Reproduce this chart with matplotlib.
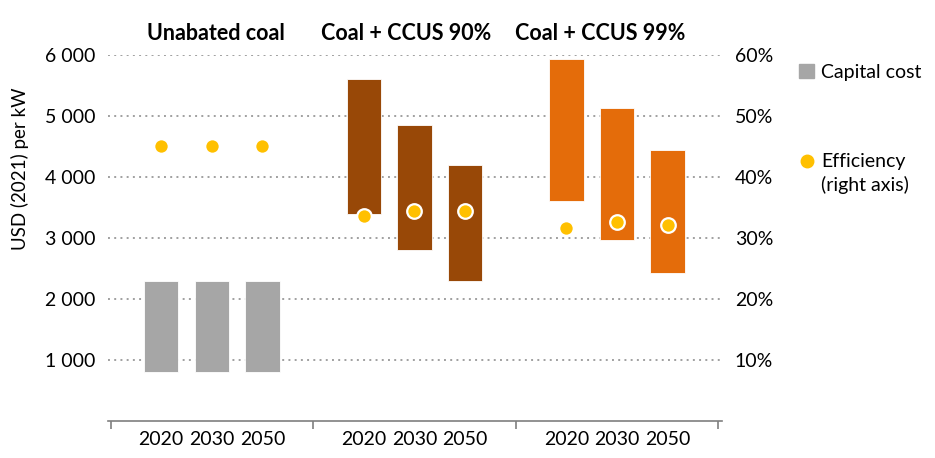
import numpy as np
import matplotlib.pyplot as plt
from matplotlib.patches import Patch
from matplotlib.lines import Line2D

plt.rcParams['font.family'] = ['Lato', 'DejaVu Sans']

groups = ['Unabated coal', 'Coal + CCUS 90%', 'Coal + CCUS 99%']
years = ['2020', '2030', '2050']

# capital cost ranges, USD (2021) per kW
cost_low = [[800, 800, 800], [3400, 2800, 2300], [3600, 2970, 2430]]
cost_high = [[2300, 2300, 2300], [5600, 4850, 4200], [5930, 5130, 4450]]
# efficiency, right axis
efficiency = [[0.45, 0.45, 0.45], [0.336, 0.344, 0.344], [0.316, 0.326, 0.321]]

bar_colors = ['#A6A6A6', '#984807', '#E46C0A']
dot_color = '#FFC000'
grid_color = '#A0A0A0'
title_x = [2.09, 5.83, 9.67]

fig = plt.figure(figsize=(9.35, 4.58), dpi=100)
ax = fig.add_axes([0.1155, 0.0808, 0.657, 0.7992])
ax2 = ax.twinx()

for g in range(len(groups)):
    xs = np.arange(3) + 1 + 4 * g
    low = np.array(cost_low[g])
    high = np.array(cost_high[g])
    ax.bar(xs, high - low, bottom=low, width=0.68, color=bar_colors[g],
           edgecolor='white', linewidth=0.6, zorder=2)
    ax2.plot(xs, efficiency[g], 'o', color=dot_color, markersize=10.5,
             markeredgecolor='white', markeredgewidth=1.6, zorder=3)
    ax.text(title_x[g], 6180, groups[g], ha='center', va='bottom',
            fontsize=15.5, fontweight='bold')

ax.set_xlim(-0.05, 12.08)
ax.set_ylim(0, 6000)
ax2.set_ylim(0, 0.6)

ax.set_yticks(np.arange(1000, 7000, 1000))
ax.set_yticklabels(['{:,}'.format(v).replace(',', ' ') for v in range(1000, 7000, 1000)])
ax2.set_yticks(np.arange(0.1, 0.61, 0.1))
ax2.set_yticklabels(['{:.0f}%'.format(v * 100) for v in np.arange(0.1, 0.61, 0.1)])

for a in (ax, ax2):
    for s in ['top', 'left', 'right']:
        a.spines[s].set_visible(False)
    a.tick_params(axis='y', length=0, labelsize=14, pad=9)
ax2.spines['bottom'].set_visible(False)
ax.spines['bottom'].set_color('#7F7F7F')
ax.spines['bottom'].set_linewidth(1.2)

ax.set_xticks([0, 4, 8, 12])
ax.set_xticklabels([])
ax.tick_params(axis='x', which='major', length=6, color='#7F7F7F', width=1.2)
ax.set_xticks([x + 4 * g for g in range(3) for x in (1, 2, 3)], minor=True)
ax.set_xticklabels(years * 3, minor=True)
ax.tick_params(axis='x', which='minor', length=0, labelsize=14, pad=7)

ax.yaxis.grid(True, linestyle=(0, (1, 2.2)), color=grid_color, linewidth=1.4)
ax.set_axisbelow(True)
ax2.set_zorder(ax.get_zorder() + 1)
ax2.patch.set_visible(False)

ax.set_ylabel('USD (2021) per kW', fontsize=13.5)
ax.yaxis.set_label_coords(-0.128, 0.69)

leg1 = ax2.legend([Patch(color=bar_colors[0])], ['Capital cost'],
                  loc='upper left', bbox_to_anchor=(0.855, 0.86),
                  bbox_transform=fig.transFigure, frameon=False, fontsize=14,
                  handlelength=0.75, handleheight=0.75, handletextpad=0.35,
                  borderpad=0, borderaxespad=0)
ax2.add_artist(leg1)
# second line of the efficiency entry gets an empty handle so both lines align
ax2.legend([Line2D([], [], marker='o', linestyle='', color=dot_color, markersize=9),
            Line2D([], [], linestyle='', marker='')],
           ['Efficiency', '(right axis)'], loc='upper left',
           bbox_to_anchor=(0.855, 0.665), bbox_transform=fig.transFigure,
           frameon=False, fontsize=14, handlelength=0.75, handletextpad=0.35,
           labelspacing=0.3, borderpad=0, borderaxespad=0)

fig.savefig('out.png', dpi=100)
